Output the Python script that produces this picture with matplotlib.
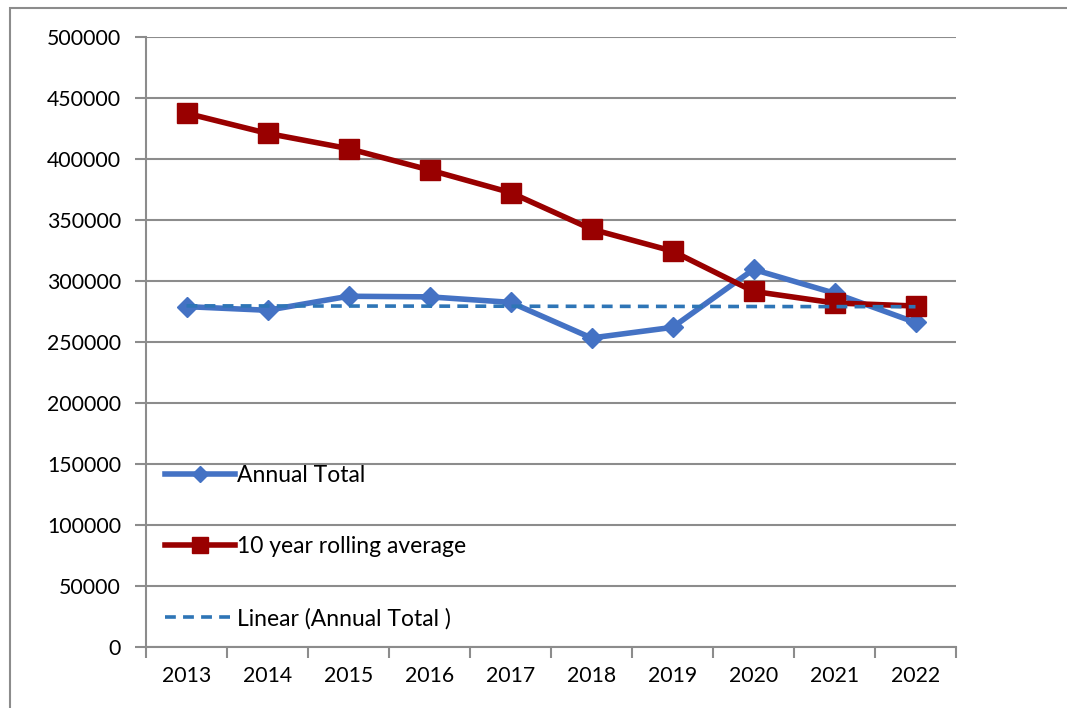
import matplotlib
matplotlib.use('Agg')

import matplotlib.pyplot as plt
import numpy as np
from matplotlib.patches import Rectangle

plt.rcParams['font.family'] = ['Lato', 'DejaVu Sans']

# data
years = ['2013', '2014', '2015', '2016', '2017', '2018', '2019', '2020', '2021', '2022']
annual_total = [279000, 276000, 287500, 287000, 282500, 253300, 262000, 309500, 290000, 266000]
rolling_avg = [437500, 421000, 408500, 391000, 372500, 342500, 324500, 291500, 282000, 279500]
y_ticks = [0, 50000, 100000, 150000, 200000, 250000, 300000, 350000, 400000, 450000, 500000]

fig = plt.figure(figsize=(10.67, 7.08), dpi=100)
ax = fig.add_axes([146/1067, 61/708, 810/1067, 610/708])

x = np.arange(len(years))

# linear trendline of annual total
coef = np.polyfit(x, annual_total, 1)
trend = np.polyval(coef, x)

grid_col = '#8c8c8c'

ax.plot(x, annual_total, color='#4472C4', linewidth=4, marker='D', markersize=10,
        label='Annual Total', zorder=3)
ax.plot(x, rolling_avg, color='#990000', linewidth=4, marker='s', markersize=14,
        label='10 year rolling average', zorder=4)
ax.plot(x, trend, color='#2E75B6', linewidth=2.6, linestyle=(0, (3, 2)),
        label='Linear (Annual Total )', zorder=5)

ax.set_xlim(-0.5, len(years) - 0.5)
ax.set_ylim(0, 500000)
ax.set_yticks(y_ticks)
ax.set_yticklabels([str(v) for v in y_ticks])
ax.yaxis.grid(True, color=grid_col, linewidth=1.5)
ax.set_axisbelow(True)

# category boundaries as major ticks, labels at centres
ax.set_xticks(np.arange(-0.5, len(years)), minor=False)
ax.set_xticklabels([])
ax.set_xticks(x, minor=True)
ax.set_xticklabels(years, minor=True)
ax.tick_params(axis='x', which='major', length=8, width=1.5, color=grid_col, direction='out')
ax.tick_params(axis='x', which='minor', length=0, pad=14, labelsize=15.3)
ax.tick_params(axis='y', length=8, width=1.5, color=grid_col, pad=10, labelsize=15.3)

for s in ['top', 'right']:
    ax.spines[s].set_visible(False)
for s in ['left', 'bottom']:
    ax.spines[s].set_color(grid_col)
    ax.spines[s].set_linewidth(1.5)

leg = ax.legend(loc='lower left', bbox_to_anchor=(0.0235, 0.029), frameon=False, fontsize=16.5,
                labelspacing=2.2, handlelength=3.05, handletextpad=0.1,
                borderaxespad=0, borderpad=0, markerscale=0.8)

# outer chart border
fig.patches.append(Rectangle((10/1067, -0.02), 1.1, 700/708 + 0.02, transform=fig.transFigure,
                             fill=False, edgecolor='#8c8c8c', linewidth=1.5))

fig.savefig('out.png', dpi=100)
